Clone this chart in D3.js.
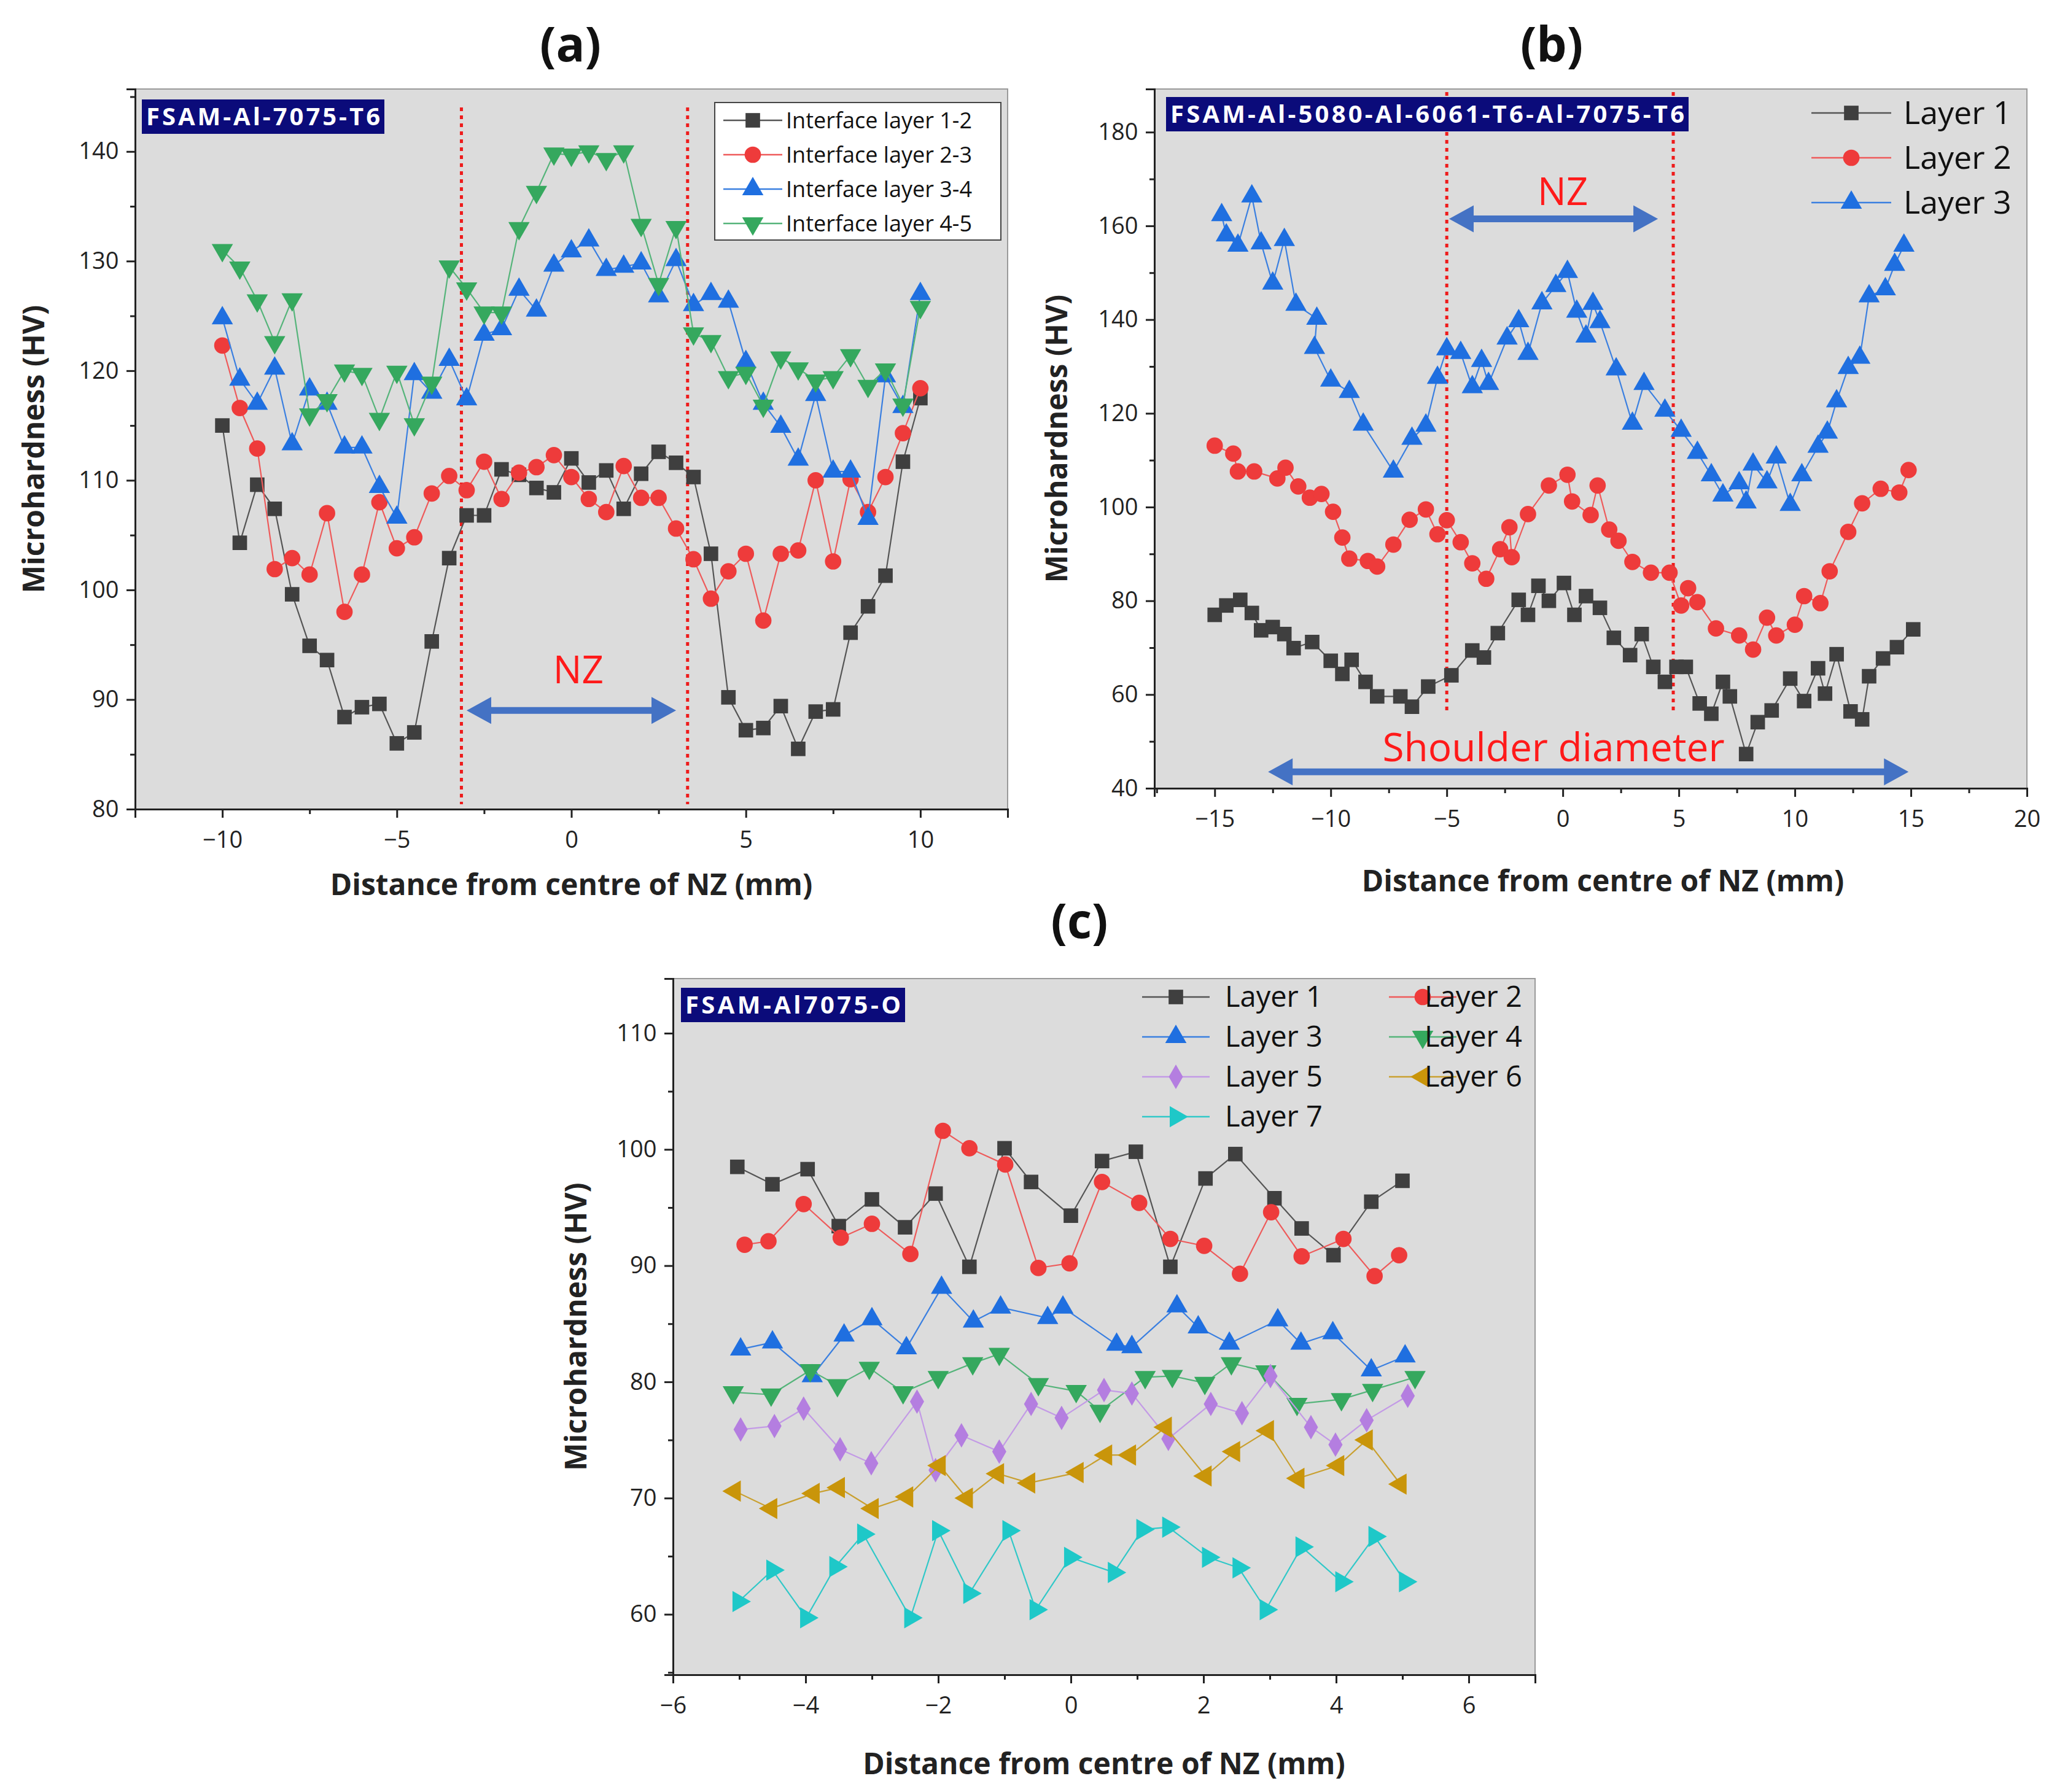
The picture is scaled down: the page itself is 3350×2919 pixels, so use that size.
<!DOCTYPE html>
<html><head><meta charset="utf-8">
<script src="https://cdn.jsdelivr.net/npm/d3@7"></script>
<style>body{margin:0;background:#fff}svg{display:block}text{font-family:"Open Sans",Arial,sans-serif}</style>
</head><body>
<svg id="c" width="3350" height="2919"></svg>
<script>
// ---------- Panel (a) data ----------
const aX = d3.range(-10, 10.01, 0.5);
const aL12 = [115,104.3,109.6,107.4,99.6,94.9,93.6,88.4,89.3,89.6,86,87,95.3,102.9,106.8,106.8,111,110.5,109.3,108.9,112,109.8,110.9,107.4,110.6,112.6,111.6,110.3,103.3,90.2,87.2,87.4,89.4,85.5,88.9,89.1,96.1,98.5,101.3,111.7,117.5];
const aL23 = [122.3,116.6,112.9,101.9,102.9,101.4,107,98,101.4,108,103.8,104.8,108.8,110.4,109.1,111.7,108.3,110.7,111.2,112.3,110.3,108.3,107.1,111.3,108.4,108.4,105.6,102.8,99.2,101.7,103.3,97.2,103.3,103.6,110,102.6,110.1,107.1,110.3,114.3,118.4];
const aL34 = [124.8,119.2,117,120.2,113.3,118.3,117,113,113,109.4,106.6,119.7,118,121,117.4,123.3,123.8,127.4,125.5,129.6,130.9,131.9,129.2,129.5,129.8,126.8,130.1,126,127,126.3,120.8,117,114.9,111.9,117.8,110.8,110.8,106.5,119.5,116.7,127];
const aL45 = [131,129.4,126.4,122.6,126.5,116,117.3,120,119.7,115.6,119.9,115.1,118.9,129.5,127.5,125.3,125.3,133,136.3,139.8,139.7,140,139.3,140,133.3,127.9,133.1,123.4,122.7,119.4,119.8,116.8,121.2,120.2,119.1,119.4,121.4,118.6,120.1,116.9,125.8];
const aNames = ["Interface layer 1-2","Interface layer 2-3","Interface layer 3-4","Interface layer 4-5"];
const aXTicks = [-10,-5,0,5,10], aYTicks = [80,90,100,110,120,130,140];

// ---------- Panel (b) data ----------
const bL1x = [-15,-14.5,-13.9,-13.4,-13,-12.5,-12,-11.6,-10.8,-10,-9.5,-9.1,-8.5,-8,-7,-6.5,-5.8,-4.8,-3.9,-3.4,-2.8,-1.9,-1.5,-1.05,-0.6,0.05,0.5,1,1.6,2.2,2.9,3.4,3.9,4.4,4.9,5.3,5.9,6.4,6.9,7.2,7.9,8.4,9,9.8,10.4,11,11.3,11.8,12.4,12.9,13.2,13.8,14.4,15.1];
const bL1y = [77,79,80.2,77.4,73.7,74.4,72.9,69.9,71.2,67.2,64.4,67.4,62.7,59.6,59.6,57.4,61.7,64.1,69.4,67.9,73.1,80.2,77,83.2,80,83.8,77,81,78.5,72.1,68.4,72.9,65.9,62.7,65.9,65.9,58.1,55.9,62.7,59.6,47.3,54.1,56.6,63.4,58.6,65.6,60.2,68.6,56.4,54.7,63.9,67.7,70.1,73.9];
const bL2x = [-15,-14.2,-14,-13.3,-12.3,-11.95,-11.4,-10.9,-10.4,-9.9,-9.5,-9.2,-8.4,-8,-7.3,-6.6,-5.9,-5.4,-5,-4.4,-3.9,-3.3,-2.7,-2.3,-2.2,-1.5,-0.6,0.2,0.4,1.2,1.5,2,2.4,3,3.8,4.6,5.1,5.4,5.8,6.6,7.6,8.2,8.8,9.2,10,10.4,11.1,11.5,12.3,12.9,13.7,14.5,14.9];
const bL2y = [113.1,111.4,107.6,107.6,106.1,108.4,104.4,102,102.8,99,93.5,89,88.5,87.3,92,97.3,99.5,94.2,97.2,92.5,88,84.7,91,95.7,89.3,98.5,104.6,106.9,101.2,98.3,104.6,95.2,92.8,88.3,86,86,79,82.7,79.7,74.1,72.6,69.6,76.4,72.6,74.9,81,79.5,86.3,94.7,100.8,103.9,103.1,107.9];
const bL3x = [-14.7,-14.5,-14,-13.4,-13,-12.5,-12,-11.5,-10.6,-10.7,-10,-9.2,-8.6,-7.3,-6.5,-5.9,-5.4,-5,-4.4,-3.9,-3.5,-3.2,-2.4,-1.9,-1.5,-0.9,-0.3,0.2,0.6,1,1.3,1.6,2.3,3,3.5,4.4,5.1,5.8,6.4,6.9,7.6,7.9,8.2,8.8,9.2,9.8,10.3,11,11.4,11.8,12.3,12.8,13.2,13.9,14.3,14.7];
const bL3y = [162.3,158,155.8,166.3,156.3,147.7,157,143.2,140.2,134,127,124.6,117.6,107.6,114.6,117.4,127.6,133.7,132.9,125.6,131.2,126.3,136,139.7,132.7,143.5,147.2,150.2,141.7,136.4,143.4,139.5,129.4,117.8,126.3,120.6,116.3,111.6,106.8,102.5,105.1,101,109.1,105.3,110.6,100.5,106.8,112.9,115.9,122.6,129.7,131.9,145,146.5,151.7,155.8];
const bNames = ["Layer 1","Layer 2","Layer 3"];
const bXTicks = [-15,-10,-5,0,5,10,15,20], bYTicks = [40,60,80,100,120,140,160,180];

// ---------- Panel (c) data ----------
const cL1x=[-5.03,-4.5,-3.97,-3.5,-3,-2.5,-2.04,-1.53,-1,-0.6,0,0.47,0.98,1.5,2.03,2.48,3.07,3.48,3.96,4.53,5.0];
const cL1y=[98.5,97,98.3,93.4,95.7,93.3,96.2,89.9,100.1,97.2,94.3,99,99.8,89.9,97.5,99.6,95.8,93.2,90.9,95.5,97.3];
const cL2x=[-4.92,-4.56,-4.03,-3.47,-3,-2.42,-1.93,-1.53,-0.99,-0.49,-0.02,0.47,1.03,1.5,2.01,2.55,3.02,3.48,4.11,4.58,4.95];
const cL2y=[91.8,92.1,95.3,92.4,93.6,91,101.6,100.1,98.7,89.8,90.2,97.2,95.4,92.3,91.7,89.3,94.6,90.8,92.3,89.1,90.9];
const cL3x=[-4.98,-4.5,-3.9,-3.42,-3,-2.48,-1.95,-1.47,-1.06,-0.35,-0.12,0.69,0.92,1.6,1.92,2.39,3.12,3.47,3.95,4.53,5.04];
const cL3y=[82.8,83.4,80.5,84,85.4,82.9,88.1,85.2,86.4,85.5,86.4,83.2,83,86.5,84.7,83.3,85.3,83.3,84.2,81,82.2];
const cL4x=[-5.09,-4.52,-3.93,-3.52,-3.04,-2.53,-2,-1.48,-1.08,-0.49,0.08,0.44,1.12,1.53,2.02,2.42,2.94,3.41,4.08,4.55,5.19];
const cL4y=[79.1,78.9,81,79.7,81.2,79.1,80.4,81.6,82.4,79.8,79.2,77.5,80.4,80.5,79.9,81.6,80.9,78.1,78.5,79.3,80.4];
const cL5x=[-4.98,-4.47,-4.03,-3.48,-3.01,-2.32,-2.04,-1.65,-1.08,-0.6,-0.14,0.5,0.92,1.47,2.11,2.58,3.01,3.62,3.99,4.46,5.08];
const cL5y=[75.9,76.2,77.7,74.2,73,78.3,72.4,75.4,74,78.1,76.9,79.3,79,75.1,78.1,77.3,80.5,76.1,74.6,76.7,78.8];
const cL6x=[-5.07,-4.52,-3.88,-3.5,-2.99,-2.47,-1.98,-1.57,-1.1,-0.63,0.1,0.53,0.89,1.43,2.03,2.46,2.97,3.43,4.03,4.46,4.97];
const cL6y=[70.6,69.1,70.4,70.9,69.1,70.1,72.8,70,72.1,71.3,72.2,73.7,73.7,76.1,71.9,74,75.8,71.7,72.8,75,71.2];
const cL7x=[-5.01,-4.5,-3.99,-3.55,-3.13,-2.42,-2,-1.53,-0.94,-0.53,-0.01,0.65,1.08,1.47,2.07,2.53,2.94,3.48,4.08,4.58,5.04];
const cL7y=[61.1,63.8,59.7,64.1,66.9,59.7,67.2,61.8,67.2,60.4,64.9,63.6,67.3,67.5,64.9,64,60.4,65.8,62.8,66.7,62.8];
const cNames=["Layer 1","Layer 2","Layer 3","Layer 4","Layer 5","Layer 6","Layer 7"];
const cXTicks=[-6,-4,-2,0,2,4,6], cYTicks=[60,70,80,90,100,110];

// ---------- styles ----------
const ST = {
  sq:{sym:d3.symbolSquare,rot:0,size:560,fill:"#3f3f3f",line:"#555"},
  ci:{sym:d3.symbolCircle,rot:0,size:560,fill:"#ee3b3b",line:"#ee5a5a"},
  up:{sym:d3.symbolTriangle,rot:0,size:520,fill:"#1f6fe0",line:"#3a7fe0"},
  dn:{sym:d3.symbolTriangle,rot:180,size:520,fill:"#35a85e",line:"#55b47a"},
  di:{sym:d3.symbolDiamond,rot:0,size:460,fill:"#b47ee0",line:"#c39ae6"},
  lt:{sym:d3.symbolTriangle,rot:-90,size:520,fill:"#c9950a",line:"#c9a030"},
  rt:{sym:d3.symbolTriangle,rot:90,size:520,fill:"#1ec8c8",line:"#30c8c8"}
};
const svg = d3.select("#c");

function panel(o){
  const x = d3.scaleLinear().domain(o.xd).range([o.l,o.r]);
  const y = d3.scaleLinear().domain(o.yd).range([o.b,o.t]);
  const g = svg.append("g");
  g.append("rect").attr("x",o.l).attr("y",o.t).attr("width",o.r-o.l).attr("height",o.b-o.t)
    .attr("fill","#dcdcdc").attr("stroke","#9a9a9a").attr("stroke-width",2);
  // axes
  const xa = g.append("g").attr("transform",`translate(0,${o.b})`)
    .call(d3.axisBottom(x).tickValues(o.xt).tickSize(14).tickFormat(d3.format("d")));
  g.append("g").attr("transform",`translate(0,${o.b})`)
    .call(d3.axisBottom(x).tickValues(o.xm).tickSize(8).tickFormat(""));
  const ya = g.append("g").attr("transform",`translate(${o.l},0)`)
    .call(d3.axisLeft(y).tickValues(o.yt).tickSize(14).tickFormat(d3.format("d")));
  g.append("g").attr("transform",`translate(${o.l},0)`)
    .call(d3.axisLeft(y).tickValues(o.ym).tickSize(8).tickFormat(""));
  g.selectAll(".domain").attr("stroke","#222").attr("stroke-width",3);
  g.selectAll(".tick line").attr("stroke","#222").attr("stroke-width",3);
  g.selectAll(".tick text").attr("font-size",38).attr("fill","#222").attr("font-family","'Open Sans',Arial,sans-serif");
  xa.selectAll(".tick text").attr("dy","1.2em");
  ya.selectAll(".tick text").attr("dx","-0.25em");
  // vertical dotted lines
  (o.vl||[]).forEach(v=>g.append("line").attr("x1",x(v)).attr("x2",x(v)).attr("y1",o.vt).attr("y2",o.vb)
     .attr("stroke","#ee1c1c").attr("stroke-width",5).attr("stroke-dasharray","6,7"));
  // series
  o.series.forEach(s=>{
    const st=ST[s.k];
    const pts=s.x.map((v,i)=>[v,s.y[i]]);
    g.append("path").datum(pts).attr("fill","none").attr("stroke",st.line).attr("stroke-width",2.2)
      .attr("d",d3.line().x(d=>x(d[0])).y(d=>y(d[1])));
    g.selectAll(null).data(pts).enter().append("path")
      .attr("d",d3.symbol().type(st.sym).size(st.size))
      .attr("transform",d=>`translate(${x(d[0])},${y(d[1])}) rotate(${st.rot})`)
      .attr("fill",st.fill);
  });
  // arrows
  (o.arrows||[]).forEach(a=>{
    const x1=x(a[0]),x2=x(a[1]),yy=y(a[2]),h=22,w=40;
    g.append("line").attr("x1",x1+w-4).attr("x2",x2-w+4).attr("y1",yy).attr("y2",yy).attr("stroke","#4472c4").attr("stroke-width",11);
    g.append("path").attr("d",`M${x1},${yy}L${x1+w},${yy-h}L${x1+w},${yy+h}Z M${x2},${yy}L${x2-w},${yy-h}L${x2-w},${yy+h}Z`).attr("fill","#4472c4");
  });
  (o.texts||[]).forEach(t=>g.append("text").attr("x",x(t[0])).attr("y",y(t[1])).attr("text-anchor","middle")
     .attr("font-size",t[3]).attr("fill","#ff1a1a").attr("font-family","'Open Sans',Arial,sans-serif").text(t[2]));
  // label box
  const lb=o.lab;
  g.append("rect").attr("x",lb[0]).attr("y",lb[1]).attr("width",lb[2]).attr("height",lb[3]).attr("fill","#0b0b7a");
  g.append("text").attr("x",lb[0]+lb[2]/2).attr("y",lb[1]+lb[3]/2).attr("dy","0.36em").attr("text-anchor","middle")
    .attr("font-size",40).attr("font-weight","bold").attr("fill","#fff").attr("textLength",lb[2]-14).text(lb[4]);
  // titles
  g.append("text").attr("x",o.tt[0]).attr("y",o.tt[1]).attr("text-anchor","middle").attr("font-size",78).attr("font-weight","bold").attr("fill","#111").text(o.tt[2]);
  g.append("text").attr("x",(o.l+o.r)/2+o.xlo).attr("y",o.xly).attr("text-anchor","middle").attr("font-size",48).attr("font-weight","bold").attr("fill","#222").text("Distance from centre of NZ (mm)");
  g.append("text").attr("transform",`translate(${o.ylx},${(o.t+o.b)/2}) rotate(-90)`).attr("text-anchor","middle").attr("font-size",48).attr("font-weight","bold").attr("fill","#222").text("Microhardness (HV)");
  return g;
}

function legendItem(g,k,x0,y0,len,tx,label,fs){
  const st=ST[k];
  g.append("line").attr("x1",x0).attr("x2",x0+len).attr("y1",y0).attr("y2",y0).attr("stroke",st.line).attr("stroke-width",2.5);
  g.append("path").attr("d",d3.symbol().type(st.sym).size(st.size)()).attr("transform",`translate(${x0+len/2},${y0}) rotate(${st.rot})`).attr("fill",st.fill);
  g.append("text").attr("x",tx).attr("y",y0).attr("dy","0.35em").attr("font-size",fs).attr("fill","#111").text(label);
}

// Panel a
const ga = panel({l:220,r:1641,t:145,b:1318,xd:[-12.5,12.5],yd:[80,145.7],
  xt:aXTicks,xm:[-12.5,-7.5,-2.5,2.5,7.5,12.5],yt:aYTicks,ym:[85,95,105,115,125,135,145],
  vl:[-3.15,3.33],vt:175,vb:1310,
  series:[{k:"sq",x:aX,y:aL12},{k:"ci",x:aX,y:aL23},{k:"up",x:aX,y:aL34},{k:"dn",x:aX,y:aL45}],
  arrows:[[-3,3,89]],texts:[[0.2,91.5,"NZ",62]],
  lab:[231,162,395,56,"FSAM-Al-7075-T6"],tt:[929,100,"(a)"],xlo:0,xly:1458,ylx:72});
ga.append("rect").attr("x",1164).attr("y",167).attr("width",466).attr("height",224).attr("fill","#fff").attr("stroke","#444").attr("stroke-width",2);
["sq","ci","up","dn"].forEach((k,i)=>legendItem(ga,k,1178,196+i*56,96,1280,aNames[i],36));

// Panel b
const gb = panel({l:1880,r:3301,t:145,b:1284,xd:[-17.6,20],yd:[40,189.2],
  xt:bXTicks,xm:[-17.5,-12.5,-7.5,-2.5,2.5,7.5,12.5,17.5],yt:bYTicks,ym:[50,70,90,110,130,150,170],
  vl:[-5,4.76],vt:150,vb:1162,
  series:[{k:"sq",x:bL1x,y:bL1y},{k:"ci",x:bL2x,y:bL2y},{k:"up",x:bL3x,y:bL3y}],
  arrows:[[-4.9,4.1,161.5],[-12.7,14.9,43.5]],texts:[[0,164.5,"NZ",62],[-0.4,45.8,"Shoulder diameter",64]],
  lab:[1899,158,851,56,"FSAM-Al-5080-Al-6061-T6-Al-7075-T6"],tt:[2527,100,"(b)"],xlo:20,xly:1452,ylx:1738});
["sq","ci","up"].forEach((k,i)=>legendItem(gb,k,2950,184+i*73,130,3100,bNames[i],52));

// Panel c
const gc = panel({l:1096,r:2500,t:1594,b:2728,xd:[-6,7],yd:[54.8,114.7],
  xt:cXTicks,xm:[-5,-3,-1,1,3,5,7],yt:cYTicks,ym:[55,65,75,85,95,105],
  series:[{k:"sq",x:cL1x,y:cL1y},{k:"ci",x:cL2x,y:cL2y},{k:"up",x:cL3x,y:cL3y},{k:"dn",x:cL4x,y:cL4y},
          {k:"di",x:cL5x,y:cL5y},{k:"lt",x:cL6x,y:cL6y},{k:"rt",x:cL7x,y:cL7y}],
  lab:[1109,1609,365,56,"FSAM-Al7075-O"],tt:[1758,1528,"(c)"],xlo:0,xly:2890,ylx:955});
["sq","ci","up","dn","di","lt","rt"].forEach((k,i)=>{
  const col=i%2, row=Math.floor(i/2);
  legendItem(gc,k,col?2372-110:1870-10,1624+row*65,110,col?2320:1995,cNames[i],47);
});
</script>
</body></html>
